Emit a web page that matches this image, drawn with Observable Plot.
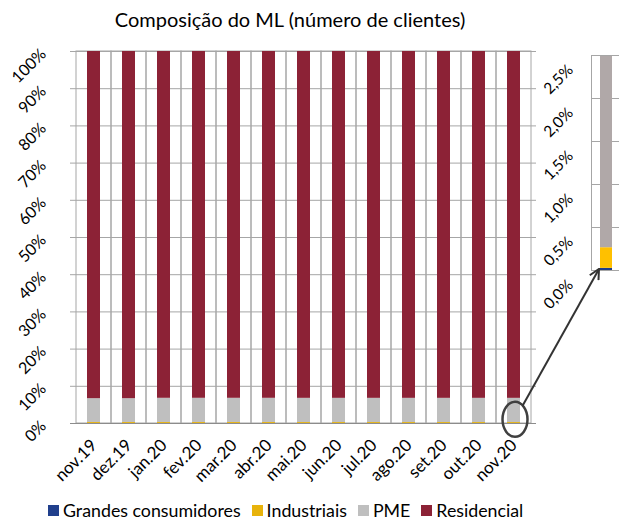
<!DOCTYPE html>
<html><head><meta charset="utf-8">
<script src="https://cdn.jsdelivr.net/npm/d3@7"></script>
<script src="https://cdn.jsdelivr.net/npm/@observablehq/plot@0.6"></script>
<style>
body{margin:0;background:#fff;font-family:Lato,"Open Sans",sans-serif;color:#000;}
#wrap{position:relative;width:619px;height:520px;background:#fff;}
#title{position:absolute;left:0;top:7px;width:580px;text-align:center;font-size:20px;line-height:24px;}
#main{position:absolute;left:0;top:0;}
#inset{position:absolute;left:530px;top:0;}
#anno{position:absolute;left:0;top:0;pointer-events:none;}
#legend{position:absolute;left:48px;top:501px;display:flex;align-items:center;font-size:17.8px;line-height:18px;white-space:nowrap;}
#legend .sw{display:inline-block;width:11px;height:11px;margin-right:4px;}
#legend .it{display:flex;align-items:center;margin-right:11px;}
</style></head>
<body><div id="wrap">
<div id="title">Composição do ML (número de clientes)</div>
<div id="main"></div>
<div id="inset"></div>
<div id="legend"></div>
</div>
<script>
// ---- data ----
const months = ["nov.19","dez.19","jan.20","fev.20","mar.20","abr.20","mai.20","jun.20","jul.20","ago.20","set.20","out.20","nov.20"];
const seriesNames = ["Grandes consumidores","Industriais","PME","Residencial"];
const grandes     = [0.025,0.025,0.025,0.025,0.025,0.025,0.025,0.025,0.025,0.025,0.025,0.025,0.025];
const industriais = [0.25,0.25,0.25,0.25,0.25,0.25,0.24,0.24,0.24,0.24,0.24,0.24,0.24];
const pme         = [6.4,6.4,6.5,6.5,6.5,6.5,6.5,6.5,6.5,6.5,6.5,6.5,6.5];
const residencial = months.map((m,i)=>100 - grandes[i] - industriais[i] - pme[i]);
const leftTicks = [0,10,20,30,40,50,60,70,80,90,100];
const rightTicks = [0,0.5,1.0,1.5,2.0,2.5];
const insetMonth = "nov.20";

// ---- styles ----
const colors = ["#203f8c","#e8b30b","#bfbfbf","#8c2236"];
const insetColors = ["#1f3c88","#ffc000","#b0a8a8","#8c2236"];
const gridColor = "#a6a6a6";

const seriesValues = [grandes, industriais, pme, residencial];
const data = [];
months.forEach((m,i)=>{
  seriesNames.forEach((s,k)=>data.push({month:m, serie:s, value:seriesValues[k][i]/100}));
});
const insetData = data.filter(d=>d.month===insetMonth);

const main = Plot.plot({
  width: 619, height: 496,
  marginLeft: 70, marginRight: 83, marginTop: 51, marginBottom: 73,
  x: {domain: months, padding: 0, label: null},
  y: {domain: [0,1], label: null},
  color: {domain: seriesNames, range: colors},
  style: {fontFamily: "Lato, sans-serif", color: "#000", background: "transparent", overflow: "visible"},
  marks: [
    Plot.ruleY(leftTicks.map(d=>d/100), {stroke: gridColor}),
    Plot.barY(months, {x: d=>d, y1: 0, y2: 1, fill: "none", stroke: gridColor}),
    Plot.barY(data, {x: "month", y: "value", fill: "serie", insetLeft: 11, insetRight: 11}),
    Plot.ruleY([0], {stroke: "#8c8c8c"}),
    Plot.axisY(leftTicks.map(d=>d/100), {tickFormat: d=>Math.round(d*100)+"%", tickRotate: -45, tickSize: 0, tickPadding: 27, fontSize: 16, label: null}),
    Plot.axisX({tickRotate: -45, tickSize: 0, tickPadding: 19, fontSize: 17, label: null})
  ]
});
document.getElementById("main").appendChild(main);

const inset = Plot.plot({
  width: 89, height: 300,
  marginLeft: 61, marginRight: 0, marginTop: 55, marginBottom: 30,
  x: {domain: [insetMonth], padding: 0, axis: null},
  y: {domain: [0, 0.025], label: null},
  color: {domain: seriesNames, range: insetColors},
  style: {fontFamily: "Lato, sans-serif", color: "#000", background: "transparent", overflow: "visible"},
  marks: [
    Plot.ruleY(rightTicks.map(d=>d/100), {stroke: gridColor}),
    Plot.barY(insetData, {x: "month", y: "value", fill: "serie", insetLeft: 9, insetRight: 7, clip: true}),
    Plot.frame({stroke: gridColor}),
    Plot.axisY(rightTicks.map(d=>d/100), {tickFormat: d=>(d*100).toFixed(1).replace(".",",")+"%", tickRotate: -45, tickSize: 0, tickPadding: 21, dy: 12, fontSize: 15.5, label: null})
  ]
});
document.getElementById("inset").appendChild(inset);

// ---- annotation: ellipse + arrow ----
const xs = main.scale("x"), ys = main.scale("y");
const cx = xs.apply(insetMonth) + xs.bandwidth/2 + 1.5;
const cy = ys.apply(0.01);
const rx = 12.5, ry = 17.5;
const ixs = inset.scale("x"), iys = inset.scale("y");
const ex = 530 + ixs.apply(insetMonth) + 8;
const ey = iys.apply(0) - 1;
const th = Math.atan2((ey-cy)/ry, (ex-cx)/rx);
const sx = cx + rx*Math.cos(th), sy = cy + ry*Math.sin(th);
const svg = d3.select("#wrap").append("svg").attr("id","anno").attr("width",619).attr("height",460);
svg.append("defs").append("marker").attr("id","arr").attr("viewBox","0 0 12 12").attr("refX",11).attr("refY",6)
  .attr("markerWidth",12).attr("markerHeight",12).attr("markerUnits","userSpaceOnUse").attr("orient","auto")
  .append("path").attr("d","M1,1 L11,6 L1,11").attr("fill","none").attr("stroke","#333").attr("stroke-width",2);
svg.append("ellipse").attr("cx",cx).attr("cy",cy).attr("rx",rx).attr("ry",ry).attr("fill","none").attr("stroke","#404040").attr("stroke-width",2.5);
svg.append("line").attr("x1",sx).attr("y1",sy).attr("x2",ex).attr("y2",ey).attr("stroke","#333").attr("stroke-width",2).attr("marker-end","url(#arr)");

// ---- legend ----
const leg = d3.select("#legend");
seriesNames.forEach((s,k)=>{
  const it = leg.append("div").attr("class","it");
  it.append("span").attr("class","sw").style("background", colors[k]);
  it.append("span").text(s);
});
</script>
</body></html>
